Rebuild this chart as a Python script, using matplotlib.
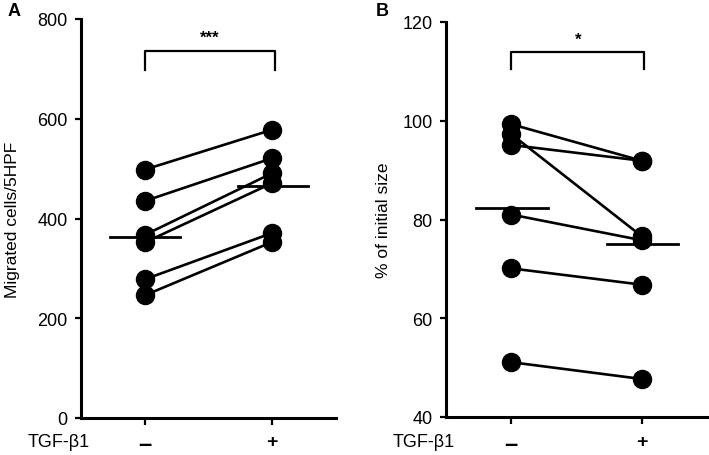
import matplotlib
matplotlib.use("Agg")
import matplotlib.pyplot as plt
import matplotlib.transforms as mtransforms
import numpy as np

plt.rcParams["font.family"] = ["Liberation Sans", "DejaVu Sans"]

# Дані: пари значень (без TGF-β1 / з TGF-β1)
groups = ["–", "+"]
migrated_minus = [498, 435, 367, 352, 278, 246]
migrated_plus = [578, 521, 491, 471, 371, 353]
size_minus = [99.3, 95.1, 97.3, 81.0, 70.1, 51.1]
size_plus = [91.9, 91.9, 76.6, 75.8, 66.8, 47.7]

panels = [
    dict(letter="A", minus=migrated_minus, plus=migrated_plus,
         ylabel="Migrated cells/5HPF", ylim=(0, 800), yticks=[0, 200, 400, 600, 800],
         bracket=(697, 735), star_y=763, stars="***", label_x=-0.24,
         rect=[81 / 709, 37 / 456, 255 / 709, 399 / 456]),
    dict(letter="B", minus=size_minus, plus=size_plus,
         ylabel="% of initial size", ylim=(40, 120), yticks=[40, 60, 80, 100, 120],
         bracket=(110.5, 114), star_y=116.6, stars="*", label_x=-0.21,
         rect=[446 / 709, 38 / 456, 261 / 709, 395 / 456]),
]

fig = plt.figure(figsize=(7.09, 4.56), dpi=100)
fig.patch.set_facecolor("white")

row_y = 1 - 443 / 456  # рядок підписів TGF-β1 (частка висоти фігури)

for p in panels:
    ax = fig.add_axes(p["rect"])
    xs = [0, 1]

    # Лінії між парними точками
    for a, b in zip(p["minus"], p["plus"]):
        ax.plot(xs, [a, b], color="black", linewidth=1.9, zorder=2,
                marker="o", markersize=13, markerfacecolor="black",
                markeredgecolor="black", clip_on=False)

    # Середні значення
    for x, vals in zip(xs, [p["minus"], p["plus"]]):
        m = np.mean(vals)
        ax.plot([x - 0.27, x + 0.28], [m, m], color="black", linewidth=2.0, zorder=3)

    # Дужка значущості
    lo, hi = p["bracket"]
    ax.plot([0, 0, 1.02, 1.02], [lo, hi, hi, lo], color="black", linewidth=1.6,
            clip_on=False)
    ax.text(0.51, p["star_y"], p["stars"], ha="center", va="center", fontsize=12,
            fontweight="bold")

    ax.set_xlim(-0.5, 1.5)
    ax.set_ylim(*p["ylim"])
    ax.set_yticks(p["yticks"])
    ax.set_xticks(xs)
    ax.set_xticklabels(["", ""])
    ax.tick_params(axis="y", labelsize=13, width=1.6, length=4.5, pad=5)
    ax.tick_params(axis="x", width=1.6, length=5)
    ax.set_ylabel(p["ylabel"], fontsize=12.5)
    ax.yaxis.set_label_coords(p["label_x"], 0.5)

    # Мітки груп у одному рядку з TGF-β1
    trans = mtransforms.blended_transform_factory(ax.transData, fig.transFigure)
    for x, g in zip(xs, groups):
        if g == "–":
            ax.text(x, row_y - 0.003, g, transform=trans, ha="center", va="center",
                    fontsize=17, fontweight="bold")
        else:
            ax.text(x, row_y, g, transform=trans, ha="center", va="center",
                    fontsize=14, fontweight="bold")

    for side in ["top", "right"]:
        ax.spines[side].set_visible(False)
    for side in ["left", "bottom"]:
        ax.spines[side].set_linewidth(2.2)

    # Підпис TGF-β1 ліворуч від міток осі X
    x_right = (90 if p["letter"] == "A" else 455) / 709
    fig.text(x_right, row_y, "TGF-β1", ha="right", va="center", fontsize=13)

    # Літера панелі
    x_letter = (8 if p["letter"] == "A" else 376) / 709
    fig.text(x_letter, 1 - 12 / 456, p["letter"], ha="left", va="center",
             fontsize=13, fontweight="bold")

fig.savefig("out.png", dpi=100, facecolor="white")
